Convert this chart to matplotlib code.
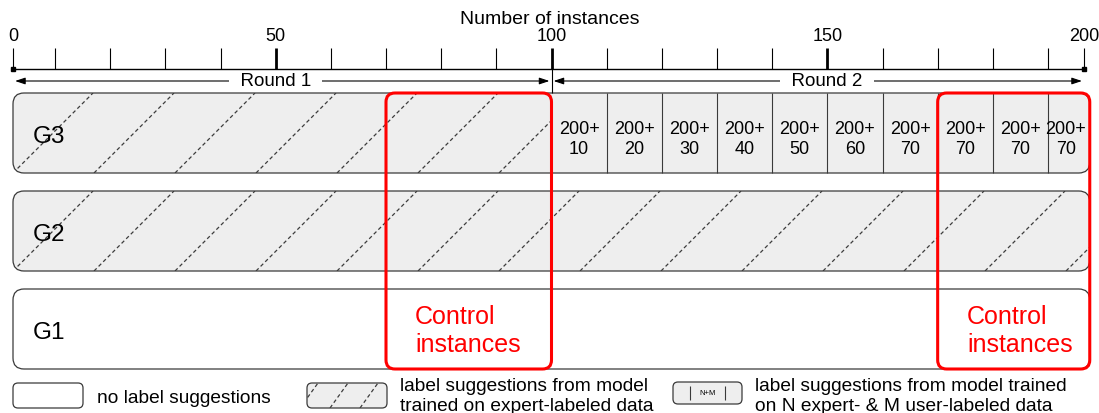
import matplotlib
matplotlib.use('Agg')
from matplotlib import pyplot as plt
from matplotlib.patches import FancyBboxPatch
from matplotlib.transforms import IdentityTransform
import numpy as np

plt.rcParams['font.family'] = ['Liberation Sans', 'DejaVu Sans']

# hand drawn axis: instances -> pixel column (ends are squeezed)
scale_vals = [-20, 0, 10, 190, 200, 220]
scale_px = [-71, 13, 55, 1048, 1084, 1156]

groups = ['G3', 'G2', 'G1']
expert_until = [100, 200, 0]      # expert-model suggestions up to this instance
round_names = ['Round 1', 'Round 2']
round_edges = [0, 100, 200]
cell_edges = [100, 110, 120, 130, 140, 150, 160, 170, 180, 190, 200]
cell_n = [200, 200, 200, 200, 200, 200, 200, 200, 200, 200]
cell_m = [10, 20, 30, 40, 50, 60, 70, 70, 70, 70]
control = [(70, 100), (170, 200)]
major_ticks = [0, 50, 100, 150, 200]
minor_ticks = list(range(0, 201, 10))

RED = '#ff0000'
GREY = '#eeeeee'
EDGE = '#3a3a3a'

row_top = [94, 192, 290]
row_h = 80
row_end = 201.6
axis_y = 70
arrow_y = 82


def fwd(v):
    return np.interp(v, scale_vals, scale_px)


def inv(p):
    return np.interp(p, scale_px, scale_vals)


fig = plt.figure(figsize=(10.99, 4.14), dpi=100)
ax = fig.add_axes([0, 0, 1, 1])
ax.set_xscale('function', functions=(fwd, inv))
ax.set_xlim(inv(0), inv(1099))
ax.set_ylim(414, 0)
ax.set_autoscale_on(False)
ax.set_axisbelow(False)


def rbox(x0, x1, ytop, ybot, r, **kw):
    a, b = ax.transData.transform((x0, ybot))
    c, d = ax.transData.transform((x1, ytop))
    p = FancyBboxPatch((a, b), c - a, d - b,
                       boxstyle='round,pad=0,rounding_size=%g' % r,
                       transform=IdentityTransform(), clip_on=False, **kw)
    ax.add_patch(p)
    return p


def hatch(p, x_end, spacing, phase, slant, **kw):
    x0, y0 = p.get_x(), p.get_y()
    h = p.get_height()
    tops = x0 + phase + spacing * np.arange(-3, 40)
    for xt in tops:
        xb = xt - h * slant
        if xb >= x_end:
            break
        yt = y0 + h
        if xt > x_end:
            yt = y0 + (x_end - xb) / slant
            xt = x_end
        ln, = ax.plot([xb, xt], [y0, yt], transform=IdentityTransform(),
                      color='#3c3c3c', lw=0.9, ls=(0, (3, 2.2)), zorder=1.5)
        ln.set_clip_path(p)


# axis on top
ax.spines[['left', 'right', 'bottom']].set_visible(False)
ax.spines['top'].set_position(('data', axis_y))
ax.spines['top'].set_bounds(0, 200)
ax.spines['top'].set_linewidth(1.0)
ax.xaxis.tick_top()
ax.set_yticks([])
ax.set_xticks(major_ticks, [str(t) for t in major_ticks])
ax.set_xticks(minor_ticks, minor=True)
ax.tick_params(which='both', direction='out', length=15, pad=3,
               labelsize=13, top=True, bottom=False)
ax.tick_params(which='major', width=2.0)
ax.tick_params(which='minor', width=0.8)
for t in (ax.xaxis.get_major_ticks()[0], ax.xaxis.get_major_ticks()[-1]):
    t.tick2line.set_markeredgewidth(0.8)
ax.xaxis.set_label_position('top')
ax.set_xlabel('Number of instances', fontsize=14, labelpad=3)
ax.plot([round_edges[0], round_edges[-1]], [axis_y, axis_y], 's',
        ms=3.5, color='black', clip_on=False)
ax.vlines(round_edges[1], axis_y, row_top[0], color='black', lw=0.8)

# rounds
for name, a, b in zip(round_names, round_edges[:-1], round_edges[1:]):
    ax.annotate('', xy=(b, arrow_y), xytext=(a, arrow_y), zorder=1,
                arrowprops=dict(arrowstyle='<|-|>,head_length=0.6,head_width=0.2',
                                color='black', lw=0.8, shrinkA=1.5, shrinkB=1.5))
    ax.text((a + b) / 2, arrow_y, '  %s  ' % name, ha='center', va='center',
            fontsize=13.5, zorder=2,
            bbox=dict(boxstyle='square,pad=0.05', fc='white', ec='none'))

# group rows
for g, top, until in zip(groups, row_top, expert_until):
    shaded = until > 0 or g == 'G3'
    p = rbox(0, row_end, top, top + row_h, 11, fc=GREY if shaded else 'white',
             ec=EDGE, lw=0.9, zorder=1)
    if until > 0:
        x_end = ax.transData.transform((until if until < 200 else row_end, 0))[0]
        hatch(p, x_end, 81, 80, 1.0)
    ax.text(4.8, top + row_h / 2 + 3, g, ha='left', va='center', fontsize=17.5,
            zorder=3)

# G3 round 2 cells: N expert + M user labelled
g3_top = row_top[0]
ax.vlines(cell_edges[1:-1], g3_top, g3_top + row_h, color=EDGE, lw=0.8, zorder=2)
for a, b, n, m in zip(cell_edges[:-1], cell_edges[1:], cell_n, cell_m):
    ax.text((a + b) / 2, g3_top + row_h / 2 + 5.5, '%d+\n%d' % (n, m),
            ha='center', va='center', fontsize=13, linespacing=1.22, zorder=3)

# control instances
for a, b in control:
    rbox(a, b if b < 200 else row_end, row_top[0], row_top[-1] + row_h, 9,
         fc='none', ec=RED, lw=2.2, zorder=4)
    ax.text(a + 5.3, 331, 'Control\ninstances', ha='left', va='center',
            fontsize=18, color=RED, linespacing=1.18, zorder=5)

# legend, laid out in pixels
lax = fig.add_axes([0, 0, 1, 1])
lax.set_xlim(0, 1099)
lax.set_ylim(414, 0)
lax.axis('off')
lax.patch.set_visible(False)


def lbox(x0, x1, y0, y1, fc):
    p = FancyBboxPatch((x0, y0), x1 - x0, y1 - y0,
                       boxstyle='round,pad=0,rounding_size=5',
                       fc=fc, ec=EDGE, lw=0.9, clip_on=False)
    lax.add_patch(p)
    return p


lbox(13, 83, 384, 409, 'white')
lax.text(97, 399, 'no label suggestions', ha='left', va='center', fontsize=13.8)

p2 = lbox(307, 387, 384, 409, GREY)
for xb in np.arange(300, 390, 30):
    ln, = lax.plot([xb, xb + 18], [409, 384], color='#3c3c3c', lw=0.9,
                   ls=(0, (3, 2.2)))
    ln.set_clip_path(p2)
lax.text(400, 396.5, 'label suggestions from model\ntrained on expert-labeled data',
         ha='left', va='center', fontsize=13.8, linespacing=1.27)

lbox(673, 742, 383, 405, GREY)
lax.vlines([690, 725], 387, 401, color=EDGE, lw=0.8)
lax.text(707.5, 394, 'N+M', ha='center', va='center', fontsize=5.5)
lax.text(755, 396.5, 'label suggestions from model trained\non N expert- & M user-labeled data',
         ha='left', va='center', fontsize=13.8, linespacing=1.27)

fig.savefig('out.png', dpi=100)
